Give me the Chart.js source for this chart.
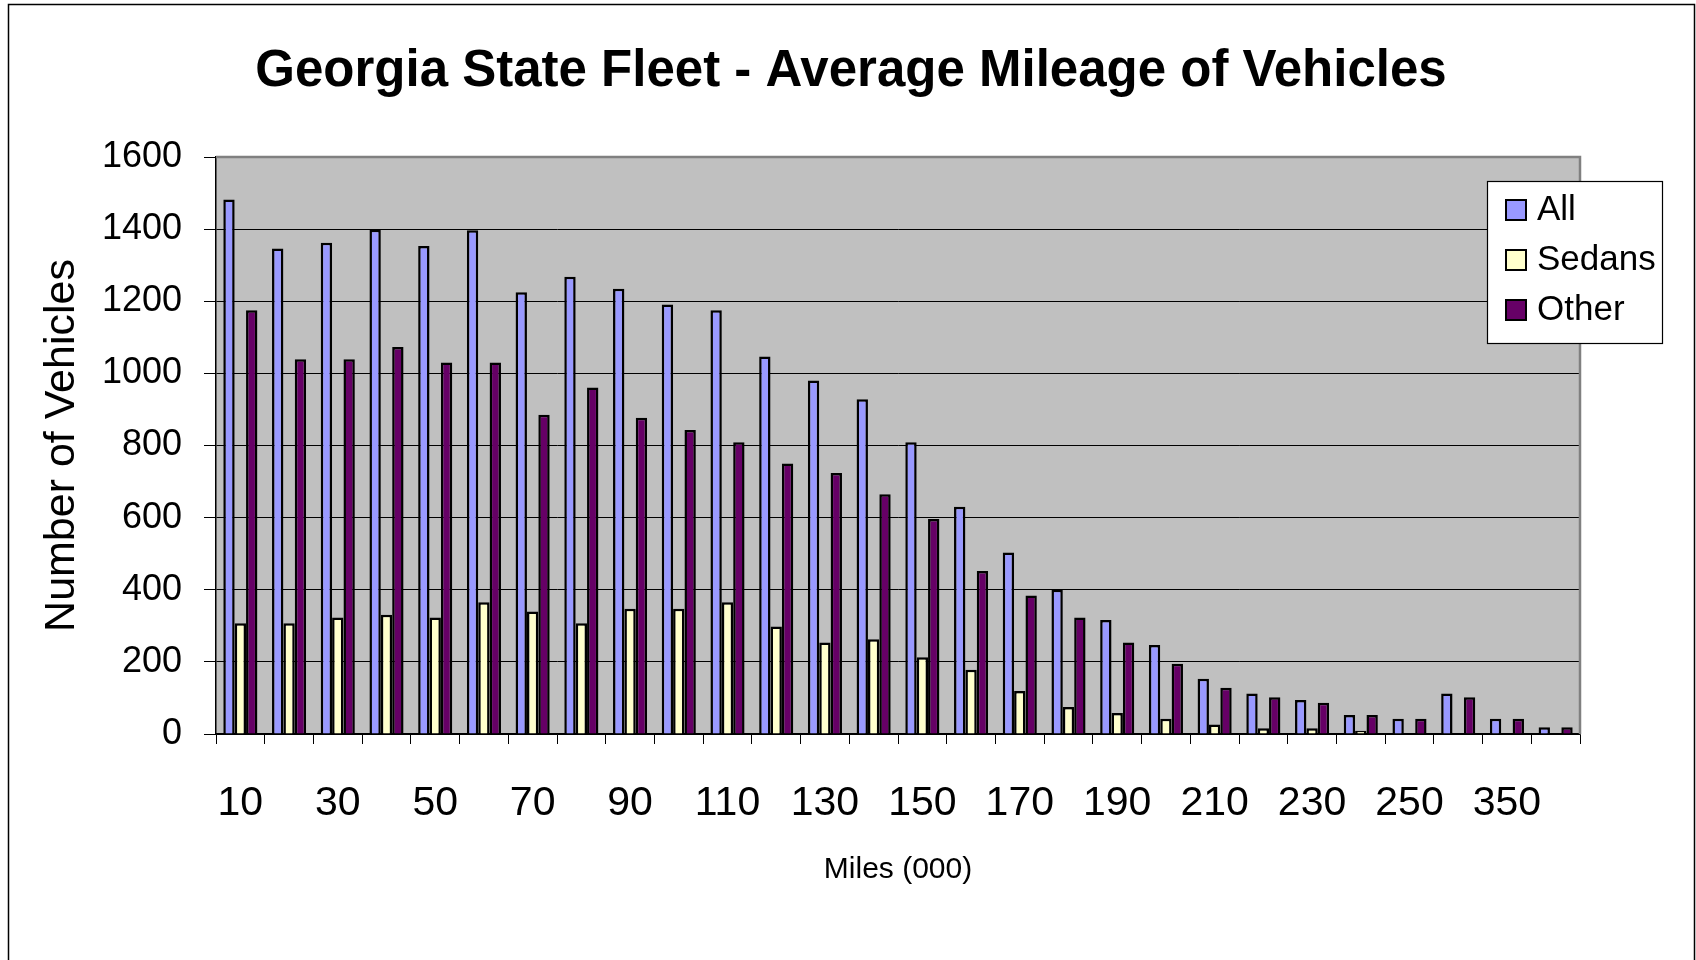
<!DOCTYPE html>
<html>
<head>
<meta charset="utf-8">
<title>Georgia State Fleet - Average Mileage of Vehicles</title>
<script src="https://cdn.jsdelivr.net/npm/chart.js@4.4.1/dist/chart.umd.min.js"></script>
<style>
    html, body { margin: 0; padding: 0; background: #ffffff; }
    #wrap { width: 1696px; height: 960px; position: relative; }
</style>
</head>
<body>
<div id="wrap"><canvas id="fleetChart"></canvas></div>
<script>
// Mileage buckets (thousands of miles) - every other one is labelled
const mileage = ['10', '20', '30', '40', '50', '60', '70', '80', '90', '100',
    '110', '120', '130', '140', '150', '160', '170', '180', '190', '200',
    '210', '220', '230', '240', '250', '300', '350', '400'];

const allVehicles = [1482, 1346, 1362, 1398, 1353, 1397, 1225, 1268, 1235, 1191,
    1175, 1047, 980, 928, 809, 630, 503, 400, 316, 247,
    153, 112, 94, 53, 42, 112, 42, 19];

const sedans = [307, 307, 323, 331, 323, 365, 340, 307, 347, 347,
    365, 298, 254, 263, 213, 178, 119, 75, 58, 42,
    26, 16, 16, 9, 0, 0, 0, 0];

const other = [1175, 1039, 1039, 1073, 1030, 1030, 885, 961, 877, 843,
    809, 750, 724, 665, 596, 452, 384, 323, 254, 195,
    128, 102, 87, 53, 42, 102, 42, 19];

const chartTitle = 'Georgia State Fleet - Average Mileage of Vehicles';

const FONT = "'Liberation Sans', Arial, sans-serif";

// grey plot area, title, frame round the whole picture and the boxed legend
const excelLook = {
    id: 'excelLook',
    beforeDraw(chart) {
        const { ctx, chartArea: a } = chart;
        ctx.save();
        ctx.fillStyle = '#ffffff';
        ctx.fillRect(0, 0, chart.width, chart.height);
        ctx.fillStyle = '#c0c0c0';
        ctx.fillRect(a.left, a.top, a.right - a.left, a.bottom - a.top);
        ctx.restore();
    },
    beforeDatasetsDraw(chart) {
        const { ctx, chartArea: a } = chart;
        ctx.save();
        ctx.strokeStyle = '#808080';
        ctx.lineWidth = 2.5;
        ctx.beginPath();
        ctx.moveTo(a.left, a.top);
        ctx.lineTo(a.right, a.top);
        ctx.lineTo(a.right, a.bottom);
        ctx.stroke();
        ctx.restore();
    },
    afterDraw(chart) {
        const ctx = chart.ctx;
        ctx.save();
        ctx.strokeStyle = '#000000';
        ctx.lineWidth = 1.5;
        ctx.strokeRect(8.5, 4.5, 1686, 1000);

        // title
        ctx.fillStyle = '#000000';
        ctx.font = 'bold 51px ' + FONT;
        ctx.textAlign = 'center';
        ctx.textBaseline = 'middle';
        ctx.fillText(chartTitle, 851, 72);

        // legend
        const box = { x: 1487, y: 181, w: 175, h: 162 };
        ctx.fillStyle = '#ffffff';
        ctx.fillRect(box.x, box.y, box.w, box.h);
        ctx.lineWidth = 1.2;
        ctx.strokeRect(box.x + 0.5, box.y + 0.5, box.w, box.h);
        ctx.font = '35px ' + FONT;
        ctx.textAlign = 'left';
        chart.data.datasets.forEach((ds, i) => {
            const cy = 210 + i * 50;
            ctx.fillStyle = ds.backgroundColor;
            ctx.fillRect(1506, cy - 10, 20, 20);
            ctx.lineWidth = 2;
            ctx.strokeStyle = '#000000';
            ctx.strokeRect(1506, cy - 10, 20, 20);
            ctx.fillStyle = '#000000';
            ctx.fillText(ds.label, 1537, cy);
        });
        ctx.restore();
    }
};

const ctx = document.getElementById('fleetChart').getContext('2d');
new Chart(ctx, {
    type: 'bar',
    data: {
        labels: mileage,
        datasets: [
            { label: 'All', data: allVehicles, backgroundColor: '#9999ff' },
            { label: 'Sedans', data: sedans, backgroundColor: '#ffffcc' },
            { label: 'Other', data: other, backgroundColor: '#660066' }
        ]
    },
    options: {
        responsive: true,
        maintainAspectRatio: false,
        animation: false,
        layout: { padding: { left: 36, right: 116, top: 157, bottom: 72 } },
        datasets: {
            bar: {
                borderColor: '#000000',
                borderWidth: 2.5,
                categoryPercentage: 0.7,
                barPercentage: 1.0
            }
        },
        plugins: {
            legend: { display: false },
            tooltip: { enabled: false },
            title: { display: false }
        },
        scales: {
            x: {
                offset: true,
                afterFit: function(scale) { scale.height = 154; },
                grid: {
                    offset: true,
                    drawOnChartArea: false,
                    drawTicks: true,
                    tickLength: 10,
                    tickColor: '#000000',
                    tickWidth: 1
                },
                border: { display: true, color: '#000000', width: 1.5 },
                ticks: {
                    autoSkip: false,
                    maxRotation: 0,
                    minRotation: 0,
                    padding: 35,
                    color: '#000000',
                    font: { family: FONT, size: 41, lineHeight: 1.2 },
                    callback: function(value, index) {
                        return index % 2 === 0 ? mileage[index] : '';
                    }
                },
                title: {
                    display: true,
                    text: 'Miles (000)',
                    color: '#000000',
                    font: { family: FONT, size: 30, lineHeight: 1.2 },
                    padding: { top: 0, bottom: 0 }
                }
            },
            y: {
                min: 0,
                max: 1600,
                afterFit: function(scale) { scale.width = 180; },
                grid: {
                    color: '#000000',
                    lineWidth: 1,
                    tickLength: 12,
                    tickColor: '#000000'
                },
                border: { display: true, color: '#000000', width: 1.5 },
                ticks: {
                    stepSize: 200,
                    padding: 22,
                    color: '#000000',
                    font: { family: FONT, size: 36, lineHeight: 1.2 },
                    callback: function(value) { return String(value); }
                },
                title: {
                    display: true,
                    text: 'Number of Vehicles',
                    color: '#000000',
                    font: { family: FONT, size: 43, lineHeight: 1.2 },
                    padding: 0
                }
            }
        }
    },
    plugins: [excelLook]
});
</script>
</body>
</html>
